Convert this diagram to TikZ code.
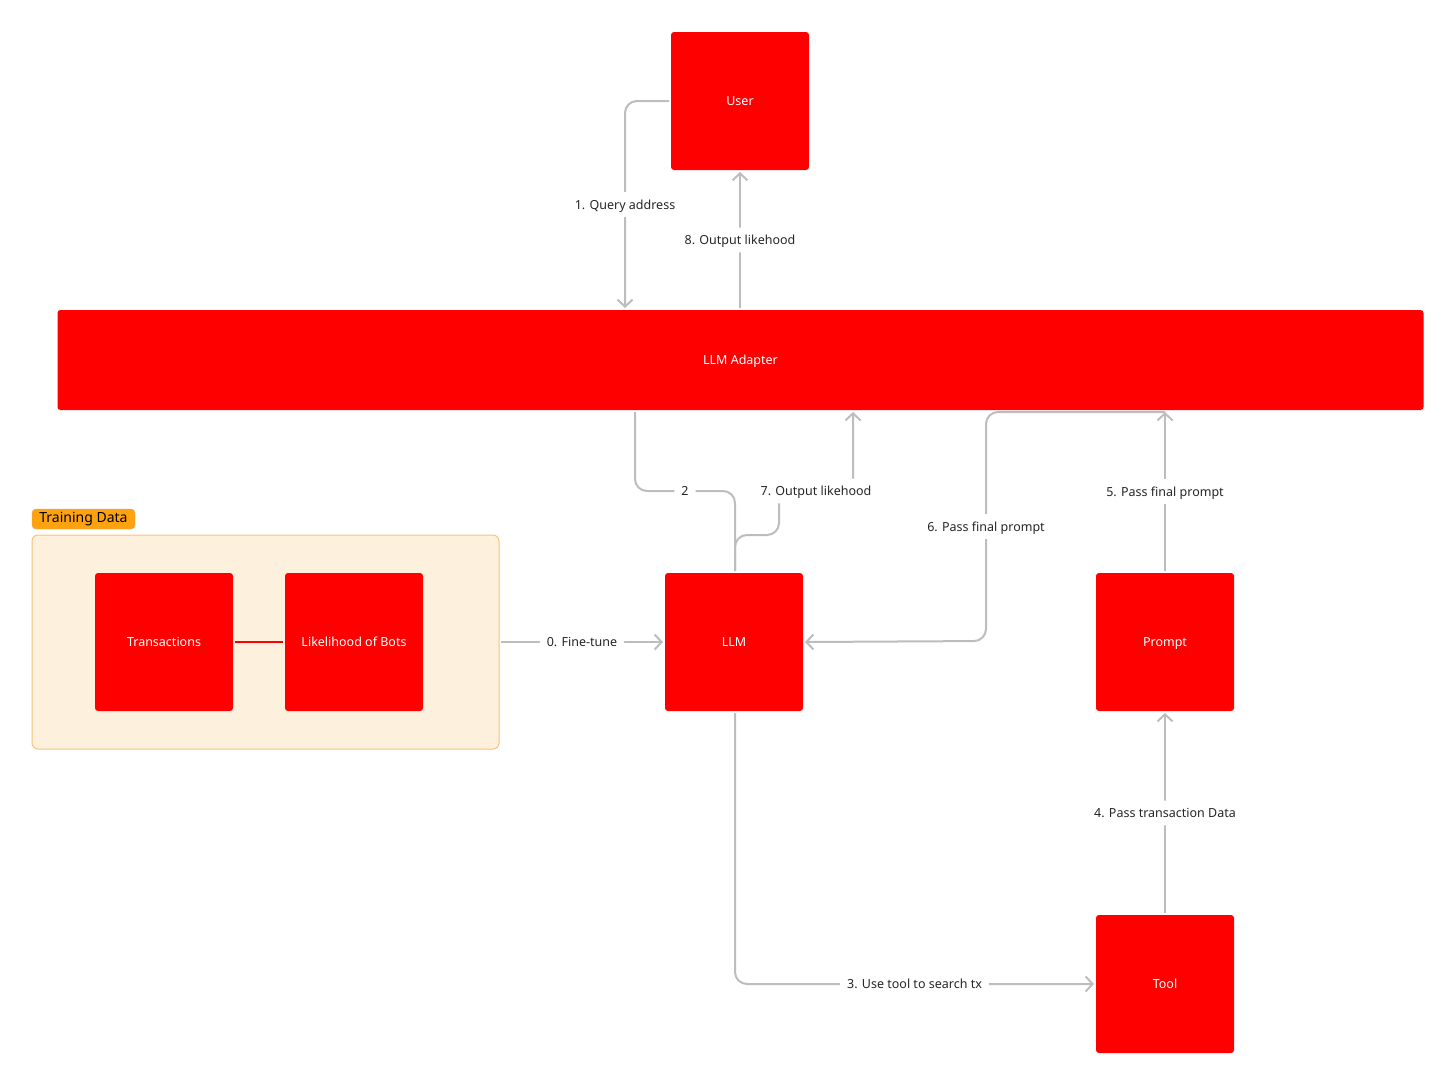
\documentclass[tikz,border=0pt]{standalone}
\usepackage{fontspec}
\setmainfont{Noto Sans}
\usepackage{tikz}
\usetikzlibrary{arrows.meta,positioning,calc}
\usepackage{xcolor}
\definecolor{boxred}{HTML}{FF0000}
\definecolor{linegray}{HTML}{BDBDBD}
\definecolor{tagorange}{HTML}{FFA210}
\definecolor{groupfill}{HTML}{FDF0DC}
\definecolor{groupline}{HTML}{F7C27E}

\begin{document}
\begin{tikzpicture}[x=1pt, y=-1pt,
    redbox/.style={fill=boxred, text=white, rounded corners=3pt, minimum width=138pt, minimum height=138pt, outer sep=2pt, text height=2.1ex, text depth=0.3ex, font=\fontsize{12.5}{14}\selectfont},
    conn/.style={draw=linegray, line width=2pt, rounded corners=12pt},
    arr/.style={conn, -{Straight Barb[length=7pt, width=15pt, line width=2pt]}},
    lbl/.style={fill=white, text=black!85, inner xsep=7pt, inner ysep=6pt, text height=2.1ex, text depth=0.3ex, font=\fontsize{12.5}{14}\selectfont}]
    \useasboundingbox (0,0) rectangle (1456,1085);

    % User Box
    \node[redbox] (user) at (740,101) {User};

    % LLM Adapter Box
    \node[redbox, minimum width=1366pt, minimum height=100pt] (adapter) at (740.5,360) {LLM Adapter};

    % Training data group
    \node[draw=groupline, fill=groupfill, line width=1pt, rounded corners=6pt, minimum width=467pt, minimum height=214pt, outer sep=2pt] (train) at (265.5,642) {};
    \node[draw=orange!80!black!60, fill=tagorange, rounded corners=4pt, minimum width=103pt, minimum height=20pt, inner sep=0pt, font=\fontsize{14}{16}\selectfont] (tag) at (83.5,519) {Training Data};
    \node[redbox] (tx) at (164,642) {Transactions};
    \node[redbox] (bots) at (354,642) {Likelihood of Bots};
    \draw[boxred, line width=2pt] (tx) -- (bots);

    % LLM, Prompt and Tool
    \node[redbox] (llm) at (734,642) {LLM};
    \node[redbox] (prompt) at (1165,642) {Prompt};
    \node[redbox] (tool) at (1165,984) {Tool};

    % Query and answer
    \draw[arr] (user.west) -| node[lbl, pos=0.75] {1. Query address} (adapter.north -| 625,0);
    \draw[arr] (adapter.north -| user.south) -- node[lbl] {8. Output likehood} (user.south);

    % Adapter to LLM and back
    \draw[conn] (adapter.south -| 635,0) |- node[lbl, pos=0.75] {2} (735,491) -- (llm.north -| 735,0);
    \draw[arr] (llm.north -| 735,0) -- (735,535) -- (779,535) -- (779,491) -- node[lbl] {7. Output likehood} (853,491) -- (adapter.south -| 853,0);

    % Fine-tune
    \draw[arr] (train.east) -- node[lbl] {0. Fine-tune} (llm.west);

    % Tool and prompt
    \draw[arr] (llm.south -| 735,0) |- node[lbl, pos=0.75] {3. Use tool to search tx} (tool.west);
    \draw[arr] (tool.north) -- node[lbl] {4. Pass transaction Data} (prompt.south);
    \draw[arr] (prompt.north) -- node[lbl] {5. Pass final prompt} (prompt.north |- adapter.south);
    \draw[arr] (prompt.north |- adapter.south) -- (986,412) -- node[lbl] {6. Pass final prompt} (986,641) -- (llm.east);
\end{tikzpicture}
\end{document}
